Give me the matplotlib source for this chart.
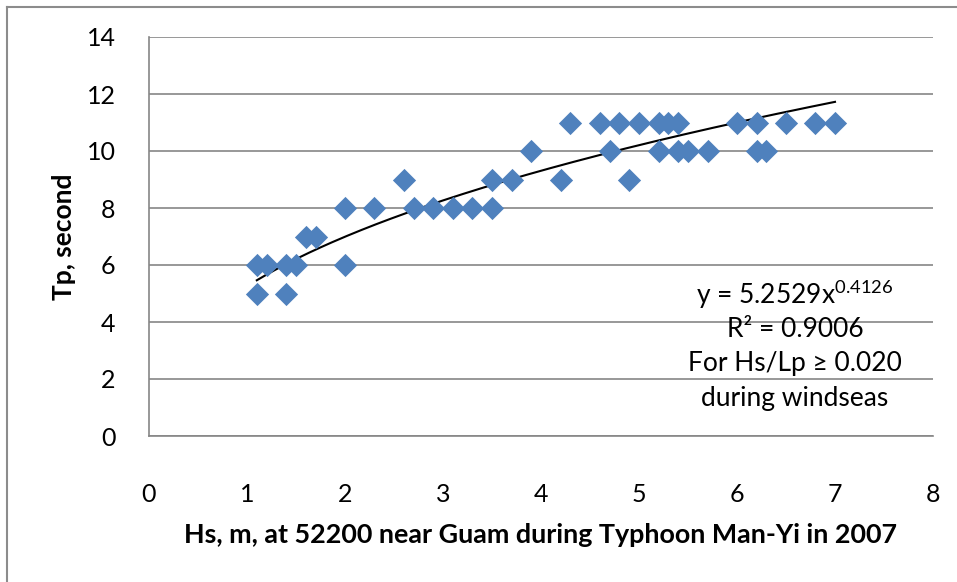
import numpy as np
import matplotlib.pyplot as plt
from matplotlib.lines import Line2D

# Hs (m) and Tp (s)
hs = [1.1, 1.1, 1.2, 1.4, 1.4, 1.5, 1.6, 1.7, 2.0, 2.0, 2.3, 2.6, 2.7, 2.9,
      3.1, 3.3, 3.5, 3.5, 3.7, 3.9, 4.2, 4.3, 4.6, 4.7, 4.8, 4.9, 5.0, 5.2,
      5.2, 5.3, 5.4, 5.4, 5.5, 5.7, 6.0, 6.2, 6.2, 6.3, 6.5, 6.8, 7.0]
tp = [5, 6, 6, 6, 5, 6, 7, 7, 8, 6, 8, 9, 8, 8,
      8, 8, 8, 9, 9, 10, 9, 11, 11, 10, 11, 9, 11, 11,
      10, 11, 11, 10, 10, 10, 11, 11, 10, 10, 11, 11, 11]

# power trendline as given on the chart
coef_a = 5.2529
coef_b = 0.4126
r2 = 0.9006

plt.rcParams['font.family'] = ['Lato', 'DejaVu Sans']
plt.rcParams['mathtext.fontset'] = 'custom'
plt.rcParams['mathtext.rm'] = 'Lato'
plt.rcParams['mathtext.it'] = 'Lato'

fig = plt.figure(figsize=(9.57, 5.82), dpi=100)
ax = fig.add_axes([149/957, 1-436/582, (933-149)/957, (436-37)/582])

xs = np.linspace(min(hs), max(hs), 200)
ax.plot(xs, coef_a * xs**coef_b, color='black', lw=1.5, zorder=3)
ax.scatter(hs, tp, marker='D', s=140, color='#4F81BD', linewidths=0, zorder=4)

ax.set_xlim(0, 8)
ax.set_ylim(0, 14)
ax.set_xticks(range(0, 9))
ax.set_yticks(range(0, 15, 2))
ax.grid(axis='y', color='#868686', lw=1.2)
ax.set_axisbelow(True)
for s in ['top', 'right']:
    ax.spines[s].set_visible(False)
for s in ['left', 'bottom']:
    ax.spines[s].set_color('#868686')
    ax.spines[s].set_linewidth(1.2)
ax.tick_params(length=0, labelsize=18)
ax.tick_params(axis='x', pad=34)
ax.tick_params(axis='y', pad=24)

ax.set_xlabel('Hs, m, at 52200 near Guam during Typhoon Man-Yi in 2007',
              fontsize=19.4, fontweight='bold', labelpad=12)
ax.set_ylabel('Tp, second', fontsize=19, fontweight='bold', labelpad=8)

tx = 6.59
ax.text(tx, 4.95, r'y = %.4fx$^{\mathrm{%.4f}}$' % (coef_a, coef_b), fontsize=19,
        ha='center', va='center')
ax.text(tx, 3.75, 'R² = %.4f' % r2, fontsize=19, ha='center', va='center')
ax.text(tx, 2.56, 'For Hs/Lp ≥ 0.020', fontsize=19, ha='center', va='center')
ax.text(tx, 1.33, 'during windseas', fontsize=19, ha='center', va='center')

# outer chart border (left and top visible)
fig.add_artist(Line2D([7/957, 7/957], [0, 1-7/582], color='#8C8C8C', lw=1.5))
fig.add_artist(Line2D([7/957, 1], [1-7/582, 1-7/582], color='#8C8C8C', lw=1.5))

fig.savefig('out.png', dpi=100)
